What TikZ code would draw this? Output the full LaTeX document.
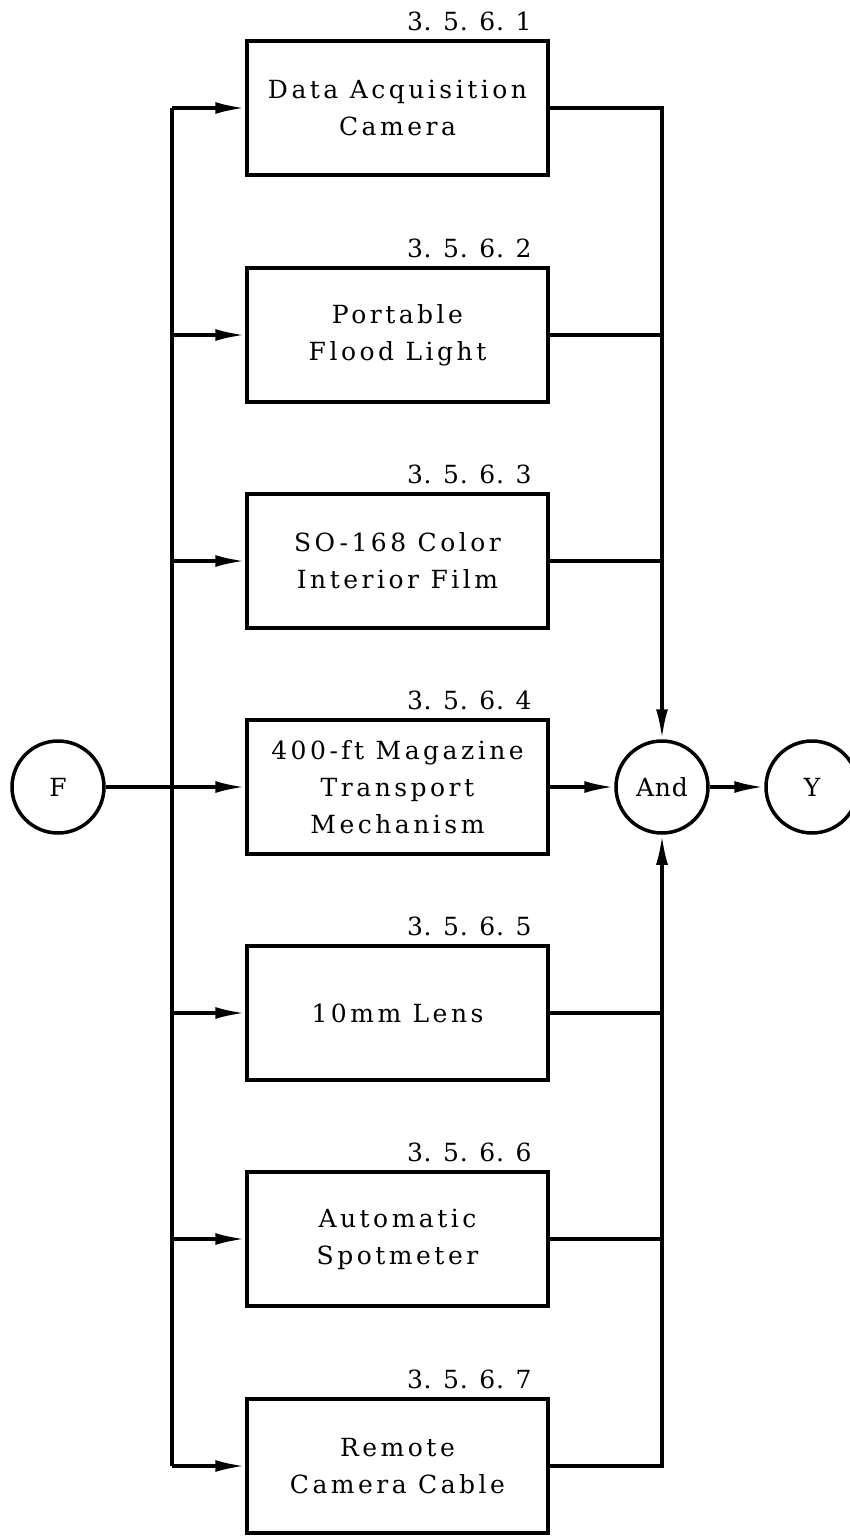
\documentclass[tikz,border=0pt]{standalone}
\usepackage{fontspec}
\newfontfamily\txtf{DejaVu Serif}[LetterSpace=14]
\newfontfamily\numf{DejaVu Serif}[LetterSpace=3]
\usetikzlibrary{arrows.meta}
\tikzset{
 blk/.style={draw, line width=3.5pt, minimum width=301pt, minimum height=134pt, align=center, inner sep=0pt, font=\txtf\fontsize{25}{37}\selectfont},
 num/.style={anchor=base east, inner sep=0pt, font=\numf\fontsize{25}{28}\selectfont},
 circ/.style={draw, circle, line width=3.5pt, minimum size=92pt, inner sep=0pt, font=\numf\fontsize{25}{28}\selectfont},
 wire/.style={line width=3.5pt},
 arr/.style={wire, -{Latex[length=30pt,width=12pt]}},
}
\begin{document}
\begin{tikzpicture}[x=1pt,y=-1pt]
\useasboundingbox (0,0) rectangle (849,1536);
\node[blk] (b1) at (397.5,108) {Data Acquisition\\Camera};
\node[blk] (b2) at (397.5,335) {Portable\\Flood Light};
\node[blk] (b3) at (397.5,561) {SO-168 Color\\Interior Film};
\node[blk] (b4) at (397.5,787) {400-ft Magazine\\Transport\\Mechanism};
\node[blk] (b5) at (397.5,1013) {10mm Lens};
\node[blk] (b6) at (397.5,1239) {Automatic\\Spotmeter};
\node[blk] (b7) at (397.5,1466) {Remote\\Camera Cable};
\foreach \i in {1,...,7}{
  \node[num, xshift=-18pt, yshift=9pt] (n\i) at (b\i.north east) {3. 5. 6. \i};
}
\node[circ] (F) at (58,787) {F};
\node[circ] (A) at (662,787) {And};
\node[circ] (Y) at (812,787) {Y};
\coordinate (bt) at (172,108);
\coordinate (bb) at (172,1466);
\draw[wire] (bt) -- (bb);
\foreach \i in {1,2,3,5,6,7}{
  \draw[arr] (b\i.west -| bt) -- (b\i.west);
}
\draw[arr] (F) -- (b4);
\draw[arr] (b1.east) -| (A);
\draw[arr] (b7.east) -| (A);
\foreach \i in {2,3,5,6}{
  \draw[wire] (b\i.east) -- (b\i.east -| A);
}
\draw[arr] (b4) -- (A);
\draw[arr] (A) -- (Y);
\end{tikzpicture}
\end{document}
